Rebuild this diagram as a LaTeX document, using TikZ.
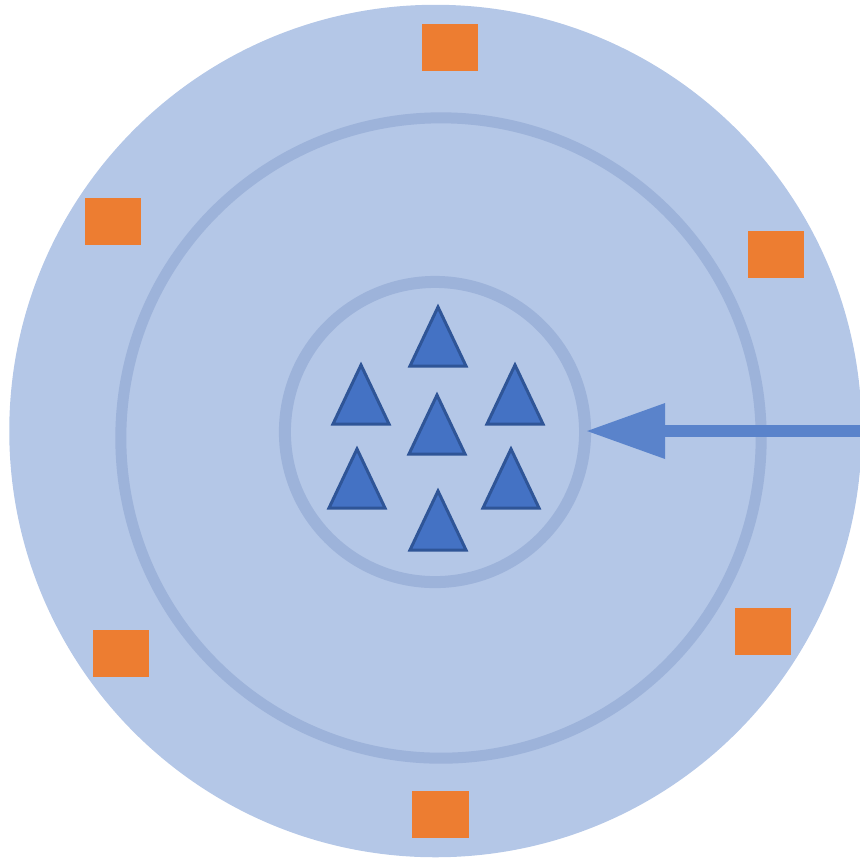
\documentclass[tikz,border=0pt]{standalone}
\usetikzlibrary{arrows.meta}
\definecolor{diskblue}{HTML}{B4C7E7}
\definecolor{ringblue}{HTML}{9DB3DA}
\definecolor{triblue}{HTML}{4472C4}
\definecolor{triedge}{HTML}{2F5597}
\definecolor{arrowblue}{HTML}{5A83CB}
\definecolor{boxorange}{HTML}{ED7D31}
\begin{document}
\begin{tikzpicture}[x=0.01cm, y=-0.01cm,
    disk/.style={circle, fill=diskblue, minimum size=8.52cm, inner sep=0pt},
    ring/.style={circle, draw=ringblue, inner sep=0pt, outer sep=0pt},
    box/.style={rectangle, fill=boxorange, minimum width=0.56cm, minimum height=0.47cm, inner sep=0pt},
    tri/.style={fill=triblue, draw=triedge, line width=0.03cm, line join=miter},
    pointer/.style={draw=arrowblue, line width=0.12cm, -{Triangle[length=0.78cm, width=0.56cm, line width=0pt, fill=arrowblue]}}]
        \useasboundingbox (0,0) rectangle (860,859);

        % Outer disk and rings
        \node[disk] (outer) at (435.5,431) {};
        \node[ring, line width=0.11cm, minimum size=6.4cm] (middle) at (441,438) {};
        \node[ring, line width=0.12cm, minimum size=3cm] (inner) at (435,432) {};

        % Orange boxes on the outer disk
        \node[box] (boxtop) at (449.7,47.4) {};
        \node[box] (boxul) at (113.3,221.7) {};
        \node[box] (boxur) at (775.8,254) {};
        \node[box] (boxll) at (120.8,653) {};
        \node[box] (boxlr) at (762.7,631) {};
        \node[box] (boxbot) at (440.5,814) {};

        % Triangles in the core
        \foreach \x/\y in {438/307, 361/365, 515/365, 437/395, 357/449, 511/449, 438/491}
            \draw[tri] (\x,\y) -- ++(-28,59) -- ++(56,0) -- cycle;

        % Incoming arrow
        \coordinate (arrowstart) at (864,431);
        \draw[pointer] (arrowstart) -- ([xshift=0.02cm]inner.east |- arrowstart);
    \end{tikzpicture}
\end{document}
